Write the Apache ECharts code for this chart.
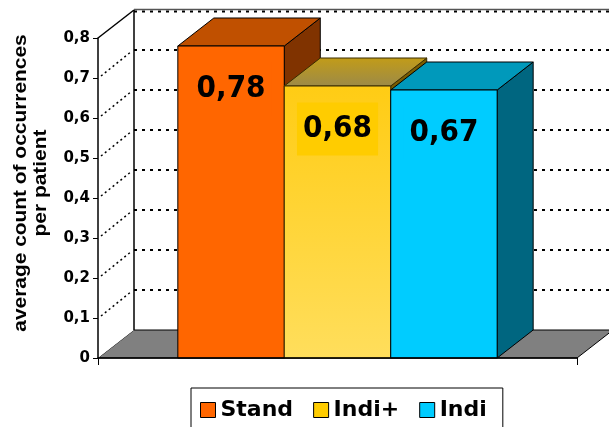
<!DOCTYPE html>
<html>
<head>
<meta charset="utf-8">
<script src="https://cdn.jsdelivr.net/npm/echarts@6/dist/echarts.min.js"></script>
<style>
  html, body { margin: 0; padding: 0; background: #ffffff; }
  #chart { width: 609px; height: 427px; }
</style>
</head>
<body>
<div id="chart"></div>
<script>
// Average count of occurrences per patient, one value per group
const groups = ['Stand', 'Indi+', 'Indi'];
const values = [0.78, 0.68, 0.67];
const valueLabels = ['0,78', '0,68', '0,67'];
const yTicks = [0, 0.1, 0.2, 0.3, 0.4, 0.5, 0.6, 0.7, 0.8];
const yTitle = 'average count of occurrences\nper patient';

// Oblique projection of the box depth (pixels)
const DX = 36, DY = -28;
const BAR_FRACTION = 1 / 4.5;   // bar width relative to the category band

const faceStyles = [
  { front: '#FF6600', top: '#C05000', side: '#803300', stroke: '#000000', legend: '#FF6600' },
  {
    front: new echarts.graphic.LinearGradient(0, 0, 0, 1, [
      { offset: 0, color: '#FFCC14' }, { offset: 1, color: '#FFDE5C' }]),
    top: new echarts.graphic.LinearGradient(0, 0, 0, 1, [
      { offset: 0, color: '#C29C18' }, { offset: 1, color: '#9C8A48' }]),
    side: '#7A5C00', stroke: '#3A2C00', legend: '#FFCC00', labelBg: '#FFCC00'
  },
  { front: '#00CCFF', top: '#0099BB', side: '#006680', stroke: '#000000', legend: '#00CCFF' }
];

const chart = echarts.init(document.getElementById('chart'), null, { renderer: 'canvas' });

// Back wall, side wall and floor of the 3D plot area
function renderFrame(params, api) {
  const cs = params.coordSys;
  const L = cs.x, R = cs.x + cs.width;
  const y0 = api.coord([0, 0])[1];
  const yMax = api.coord([0, yTicks[yTicks.length - 1]])[1];
  const children = [];
  // floor
  children.push({
    type: 'polygon',
    shape: { points: [[L, y0], [L + DX, y0 + DY], [R + DX, y0 + DY], [R, y0]] },
    style: { fill: '#808080', stroke: '#000', lineWidth: 1 }
  });
  // left side wall
  children.push({
    type: 'polygon',
    shape: { points: [[L, y0], [L, yMax], [L + DX, yMax + DY], [L + DX, y0 + DY]] },
    style: { fill: '#ffffff', stroke: null }
  });
  // dotted lines on the side wall and on the back wall
  yTicks.forEach(function (v) {
    if (v === 0) return;
    const y = api.coord([0, v])[1];
    const isTop = v === yTicks[yTicks.length - 1];
    if (!isTop) {
      children.push({
        type: 'line',
        shape: { x1: L + 3, y1: y - 2, x2: L + DX - 2, y2: y + DY + 1 },
        style: { stroke: '#000', lineWidth: 1.5, lineDash: [2, 3] }
      });
    }
    children.push({
      type: 'line',
      shape: { x1: L + DX, y1: y + DY + (isTop ? 1.5 : 0), x2: R + DX + 10, y2: y + DY + (isTop ? 1.5 : 0) },
      style: { stroke: '#000', lineWidth: 2, lineDash: [3, 5] }
    });
  });
  // top edge of the back wall
  children.push({
    type: 'line',
    shape: { x1: L + DX, y1: yMax + DY - 0.5, x2: R + DX + 10, y2: yMax + DY - 0.5 },
    style: { stroke: '#555', lineWidth: 1.5 }
  });
  // top edge of the side wall
  children.push({
    type: 'line',
    shape: { x1: L, y1: yMax, x2: L + DX, y2: yMax + DY },
    style: { stroke: '#000', lineWidth: 1.5 }
  });
  // back corner edge
  children.push({
    type: 'line',
    shape: { x1: L + DX, y1: yMax + DY, x2: L + DX, y2: y0 + DY },
    style: { stroke: '#000', lineWidth: 1.5 }
  });
  return { type: 'group', children: children };
}

// One 3D box per group
function makeBarRenderer(idx) {
  const st = faceStyles[idx];
  return function (params, api) {
    const cx = api.coord([api.value(0), 0])[0];
    const band = api.size([1, 0])[0];
    const bw = band * BAR_FRACTION;
    const x0 = cx - 1.5 * bw + idx * bw;
    const x1 = x0 + bw;
    const yTop = api.coord([api.value(0), api.value(1)])[1];
    const yBase = api.coord([api.value(0), 0])[1];
    return {
      type: 'group',
      children: [
        {
          type: 'polygon',
          shape: { points: [[x1, yTop], [x1 + DX, yTop + DY], [x1 + DX, yBase + DY], [x1, yBase]] },
          style: { fill: st.side, stroke: st.stroke, lineWidth: 1 }
        },
        {
          type: 'polygon',
          shape: { points: [[x0, yTop], [x1, yTop], [x1 + DX, yTop + DY], [x0 + DX, yTop + DY]] },
          style: { fill: st.top, stroke: st.stroke, lineWidth: 1 }
        },
        {
          type: 'rect',
          shape: { x: x0, y: yTop, width: bw, height: yBase - yTop },
          style: { fill: st.front, stroke: st.stroke, lineWidth: 1 }
        },
        {
          type: 'text',
          x: (x0 + x1) / 2,
          y: yTop + 43,
          scaleY: 1.1,
          style: {
            text: valueLabels[idx],
            font: 'bold 28px "DejaVu Sans"',
            fill: '#000',
            align: 'center',
            verticalAlign: 'middle',
            backgroundColor: st.labelBg || st.legend,
            padding: [10, 6, 10, 6]
          }
        }
      ]
    };
  };
}

const series = [{
  type: 'custom',
  name: 'frame',
  silent: true,
  clip: false,
  z: 1,
  data: [[0, 0]],
  renderItem: renderFrame
}];
groups.forEach(function (g, i) {
  series.push({
    type: 'custom',
    name: g,
    clip: false,
    z: 2,
    itemStyle: { color: faceStyles[i].legend },
    data: [[0, values[i]]],
    renderItem: makeBarRenderer(i)
  });
});

const option = {
  animation: false,
  backgroundColor: '#ffffff',
  grid: { left: 98, right: 32, top: 38, bottom: 69, containLabel: false, outerBoundsMode: 'none' },
  xAxis: {
    type: 'category',
    data: [''],
    boundaryGap: true,
    z: 5,
    axisLine: { show: true, lineStyle: { color: '#000', width: 1.5 } },
    axisTick: { show: true, length: 7, lineStyle: { color: '#000', width: 1 } },
    axisLabel: { show: false },
    splitLine: { show: false }
  },
  yAxis: {
    type: 'value',
    min: 0,
    max: 0.8,
    interval: 0.1,
    z: 5,
    axisLine: { show: true, lineStyle: { color: '#000', width: 1.5 } },
    axisTick: { show: true, length: 5, lineStyle: { color: '#000', width: 1 } },
    axisLabel: {
      margin: 8,
      color: '#000',
      fontFamily: 'DejaVu Sans',
      fontWeight: 'bold',
      fontSize: 15,
      padding: [0, 0, 9, 0],
      formatter: function (v) { return v === 0 ? '0' : v.toFixed(1).replace('.', ','); }
    },
    splitLine: { show: false }
  },
  legend: {
    left: 191,
    top: 388,
    orient: 'horizontal',
    padding: [11, 16, 12, 9],
    itemGap: 20,
    itemWidth: 15,
    itemHeight: 15,
    borderColor: '#000',
    borderWidth: 1,
    backgroundColor: '#fff',
    icon: 'rect',
    textStyle: { fontFamily: 'DejaVu Sans', fontWeight: 'bold', fontSize: 22, color: '#000' },
    data: groups.map(function (g, i) {
      return { name: g, itemStyle: { color: faceStyles[i].legend, borderColor: '#000', borderWidth: 1 } };
    })
  },
  graphic: [{
    type: 'text',
    x: 31,
    y: 183,
    rotation: Math.PI / 2,
    scaleX: 1.1,
    style: {
      text: yTitle,
      font: 'bold 19px "Liberation Sans"',
      fill: '#000',
      align: 'center',
      verticalAlign: 'middle',
      lineHeight: 20
    }
  }],
  series: series
};

chart.setOption(option);
</script>
</body>
</html>
